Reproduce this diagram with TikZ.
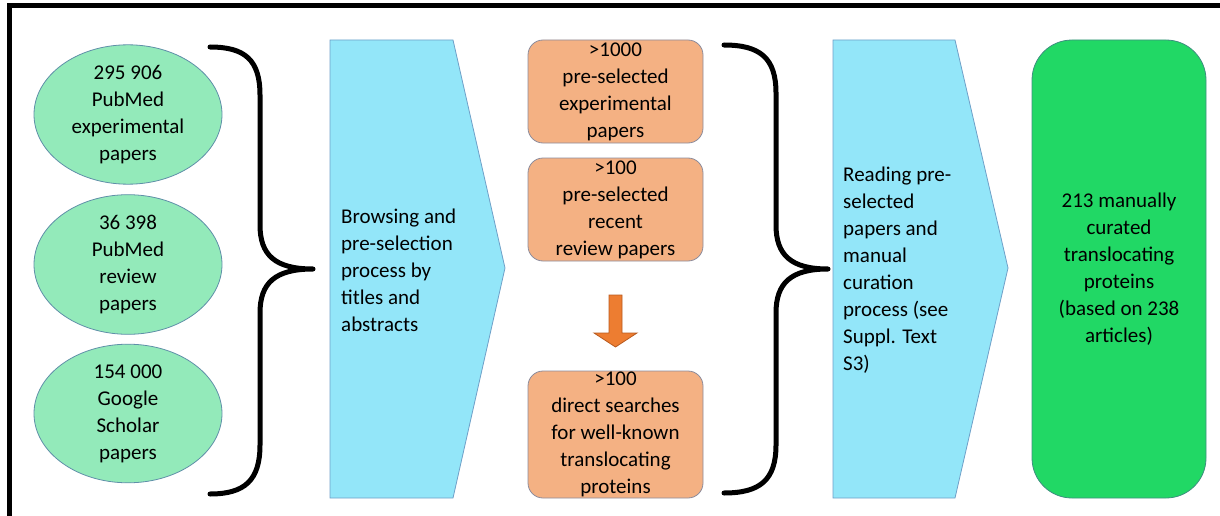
\documentclass[tikz,border=0pt]{standalone}
\usepackage{fontspec}
\setmainfont{Carlito}
\usetikzlibrary{shapes.geometric}
\definecolor{ellfill}{HTML}{93EABA}
\definecolor{elldraw}{HTML}{5F8FA8}
\definecolor{penfill}{HTML}{93E6F9}
\definecolor{pendraw}{HTML}{6FA0C8}
\definecolor{orfill}{HTML}{F4B183}
\definecolor{ordraw}{HTML}{8C8C9C}
\definecolor{arrfill}{HTML}{ED7D31}
\definecolor{arrdraw}{HTML}{B85A1F}
\definecolor{grfill}{HTML}{21D865}
\definecolor{grdraw}{HTML}{3F8F80}
\tikzset{
  txt/.style={font=\fontsize{21}{27}\selectfont, inner sep=0pt},
  source/.style={txt, ellipse, draw=elldraw, fill=ellfill, line width=0.8pt,
    minimum width=188pt, minimum height=121pt, align=center},
  orbox/.style={txt, draw=ordraw, fill=orfill, line width=0.8pt, rounded corners=15pt,
    minimum width=175pt, align=center},
  penta/.style={draw=pendraw, fill=penfill, line width=0.8pt},
  brace/.style={line width=5pt, line cap=round, line join=round},
  border/.style={line width=5pt},
}
\begin{document}
\begin{tikzpicture}[x=1pt, y=-1pt]
\useasboundingbox (0,0) rectangle (1220,516);
% frame
\draw[border] (9.5,516) -- (9.5,5.5) -- (1220,5.5);
% sources
\node[source] (e1) at (128,114.5) {295 906\\PubMed\\experimental\\papers};
\node[source] (e2) at (128,264.5) {36 398\\PubMed\\review\\papers};
\node[source] (e3) at (128,413.5) {154 000\\Google\\Scholar\\papers};
% brace 1
\coordinate (b1t) at (210,47);
\coordinate (b1m) at (313,269);
\coordinate (b1b) at (210,494);
\draw[brace] (b1t) .. controls (245,47) and (260,60) .. (260,95) -- (260,225)
  .. controls (260,255) and (275,269) .. (b1m)
  .. controls (275,269) and (260,283) .. (260,313) -- (260,445)
  .. controls (260,480) and (245,494) .. (b1b);
% pentagon 1
\draw[penta] (330,40) -- (453,40) -- (505,268) -- (453,498) -- (330,498) -- cycle;
\node[txt, anchor=west, align=left] (p1) at (341,270) {Browsing and\\pre-selection\\process by\\titles and\\abstracts};
% orange boxes
\node[orbox, minimum height=103pt] (o1) at (615.5,91.5) {>1000\\pre-selected\\experimental\\papers};
\node[orbox, minimum height=103pt] (o2) at (615.5,209.5) {>100\\pre-selected\\recent\\review papers};
\node[orbox, minimum height=127pt] (o3) at (615.5,434.5) {>100\\direct searches\\for well-known\\translocating\\proteins};
% down arrow
\draw[fill=arrfill, draw=arrdraw, line width=0.8pt] (609,295) -- (622,295) -- (622,333) -- (637,333)
  -- (615.5,347) -- (594,333) -- (609,333) -- cycle;
% brace 2
\coordinate (b2t) at (724,45);
\coordinate (b2m) at (828,269);
\coordinate (b2b) at (724,493);
\draw[brace] (b2t) .. controls (760,45) and (776,58) .. (776,93) -- (776,225)
  .. controls (776,255) and (791,269) .. (b2m)
  .. controls (791,269) and (776,283) .. (776,313) -- (776,445)
  .. controls (776,480) and (760,493) .. (b2b);
% pentagon 2
\draw[penta] (833,40) -- (955,40) -- (1008,268) -- (955,498) -- (833,498) -- cycle;
\node[txt, anchor=west, align=left] (p2) at (843,270) {Reading pre-\\selected\\papers and\\manual\\curation\\process (see\\Suppl. Text\\S3)};
% result
\node[txt, draw=grdraw, fill=grfill, line width=0.8pt, rounded corners=40pt,
  minimum width=174pt, minimum height=458pt, align=center] (res) at (1119,269)
  {213 manually\\curated\\translocating\\proteins\\(based on 238\\articles)};
\end{tikzpicture}
\end{document}
